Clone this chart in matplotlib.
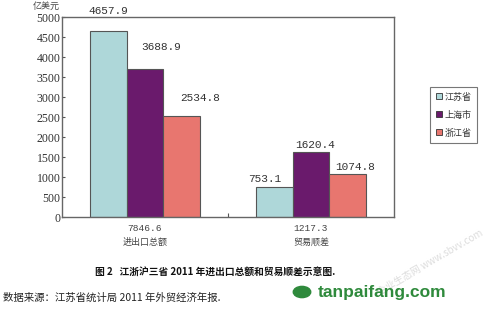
import matplotlib
matplotlib.use("Agg")
import matplotlib.pyplot as plt
import numpy as np
from matplotlib.lines import Line2D
from matplotlib.patches import Circle

plt.rcParams["font.family"] = ["Noto Sans CJK SC", "DejaVu Sans"]

# data
categories = ["进出口总额", "贸易顺差"]
category_totals = ["7846.6", "1217.3"]
series_names = ["江苏省", "上海市", "浙江省"]
jiangsu = [4657.9, 753.1]
shanghai = [3688.9, 1620.4]
zhejiang = [2534.8, 1074.8]
y_ticks = list(range(0, 5001, 500))

colors = ["#aed7d9", "#6a1a6c", "#e8766f"]
# label offsets (points) per series, per group
label_dx = [[0, -7], [12, 3], [13, 5]]
label_dy = [[14, 6], [16, 5], [13, 5]]

fig = plt.figure(figsize=(4.85, 3.12), dpi=100)
ax = fig.add_axes([62 / 485, 1 - 217 / 312, 332 / 485, 200 / 312])

x = np.arange(len(categories))
width = 0.222
series = [jiangsu, shanghai, zhejiang]
mono = "Liberation Mono"
for i, (name, vals) in enumerate(zip(series_names, series)):
    xs = x + (i - 1) * width
    ax.bar(xs, vals, width, color=colors[i], edgecolor="#555555",
           linewidth=0.8, label=name)
    for j, (xx, v) in enumerate(zip(xs, vals)):
        ax.annotate(f"{v:.1f}", (xx, v), xytext=(label_dx[i][j], label_dy[i][j]),
                    textcoords="offset points", ha="center", va="center",
                    fontsize=8, family=mono, color="#333333")

ax.set_xlim(-0.5, 1.5)
ax.set_ylim(0, 5000)
ax.set_yticks(y_ticks)
ax.set_yticklabels([str(t) for t in y_ticks], family="Liberation Serif",
                   fontsize=8.5, color="#333333")
ax.tick_params(axis="y", direction="in", length=2, width=0.8, pad=1,
               color="#555555")
ax.set_xticks([0.5])
ax.set_xticklabels([""])
ax.tick_params(axis="x", direction="in", length=3, width=0.8, color="#555555")
for s in ax.spines.values():
    s.set_color("#666666")
    s.set_linewidth(1.0)

for xi, (cat, tot) in enumerate(zip(categories, category_totals)):
    ax.annotate(tot, (xi, 0), xytext=(0, -8), textcoords="offset points",
                ha="center", va="center", fontsize=6.8, family=mono,
                color="#444444")
    ax.annotate(cat, (xi, 0), xytext=(0, -18), textcoords="offset points",
                ha="center", va="center", fontsize=6.5, color="#444444")

fig.text(46 / 485, 1 - 6 / 312, "亿美元", ha="center", va="center",
         fontsize=6.5, color="#444444")

handles = [Line2D([], [], marker="s", linestyle="none", markersize=5,
                  markerfacecolor=c, markeredgecolor="#333333",
                  markeredgewidth=0.6) for c in colors]
leg = fig.legend(handles, series_names, loc="upper left",
                 bbox_to_anchor=(430 / 485, 1 - 87 / 312), fontsize=6.5,
                 frameon=True, fancybox=False, handletextpad=0.2,
                 handlelength=0.8, borderpad=0.6, labelspacing=1.0,
                 borderaxespad=0)
leg.get_frame().set_edgecolor("#555555")
leg.get_frame().set_linewidth(0.8)
for t in leg.get_texts():
    t.set_color("#333333")

fig.text(215 / 485, 1 - 272 / 312,
         "图 2   江浙沪三省 2011 年进出口总额和贸易顺差示意图.",
         ha="center", va="center", fontsize=7, fontweight="bold",
         color="#111111")
fig.text(3 / 485, 1 - 298 / 312,
         "数据来源：江苏省统计局 2011 年外贸经济年报.",
         ha="left", va="center", fontsize=7.5, color="#222222")

# site watermark
fig.text(430 / 485, 1 - 262 / 312, "企业生态网 www.sbvv.com", rotation=30,
         ha="center", va="center", fontsize=7, color="#dddddd", zorder=0)
fig.patches.append(Circle((302 / 485, 1 - 292 / 312), 0.018,
                          transform=fig.transFigure, color="#2f8a3c"))
fig.text(318 / 485, 1 - 293 / 312, "tanpaifang.com", ha="left", va="center",
         fontsize=12.5, fontweight="bold", family="Liberation Sans",
         color="#2f8a3c")

fig.savefig("out.png", dpi=100)
